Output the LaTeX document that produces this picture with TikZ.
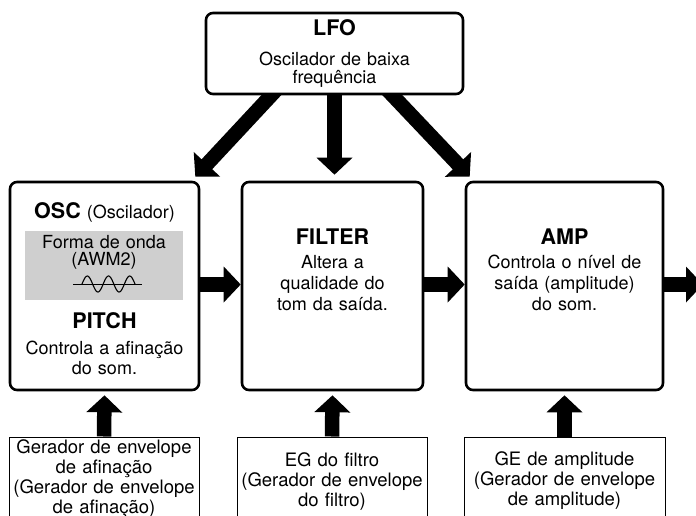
\documentclass[tikz,border=0pt]{standalone}
\usepackage{fontspec}
\setmainfont{TeX Gyre Heros}
\usetikzlibrary{arrows.meta,positioning,backgrounds}

\begin{document}
\begin{tikzpicture}[x=1pt,y=-1pt,
    blk/.style={draw, fill=white, line width=2.6pt, rounded corners=7pt, inner sep=0pt},
    egbox/.style={draw, line width=1pt, inner sep=0pt},
    hd/.style={font=\bfseries\fontsize{21.5}{24}\selectfont, inner sep=0pt, anchor=base},
    txt/.style={font=\fontsize{18}{21}\selectfont, inner sep=0pt, anchor=base, align=center, text width=#1},
    egtxt/.style={font=\fontsize{18.5}{20}\selectfont, inner sep=0pt, anchor=base, align=center, text width=#1},
    bigarrow/.style={line width=14.5pt, -{Triangle[length=17pt,width=35pt]}}]
\useasboundingbox (0,0) rectangle (696,515);

% top block
\node[blk, minimum width=257pt, minimum height=81pt] (lfo) at (334.5,53.5) {};
\node[hd] (lfotitle) at (334.5,35) {LFO};
\node[txt=250pt, font=\fontsize{18}{18}\selectfont] (lfotext) at (334.5,65) {Oscilador de baixa\\frequência};

% main blocks
\node[blk, minimum width=189pt, minimum height=208pt] (osc) at (104.5,286) {};
\node[blk, minimum width=181pt, minimum height=208pt] (filter) at (332.5,286) {};
\node[blk, minimum width=197pt, minimum height=208pt] (amp) at (564.5,286) {};

\node[hd] (osctitle) at (104.5,218) {OSC {\mdseries\fontsize{18}{21}\selectfont (Oscilador)}};
\node[fill=black!19, minimum width=158pt, minimum height=69pt, inner sep=0pt] (wavebox) at (104,265.5) {};
\node[txt=150pt, font=\fontsize{18}{17}\selectfont] (wavetext) at (104,248) {Forma de onda\\(AWM2)};
\draw[line width=1pt] (73,284) -- (142,284);
\draw[line width=1.1pt, domain=0:53, samples=80, smooth] plot ({82+\x},{284-8*sin(16.98*\x)});
\node[hd] (pitch) at (104.5,328) {PITCH};
\node[txt=185pt, font=\fontsize{18}{20}\selectfont] (pitchtext) at (104.5,354) {Controla a afinação\\do som.};

\node[hd] (filtertitle) at (332.5,244) {FILTER};
\node[txt=175pt] (filtertext) at (332.5,268) {Altera a\\qualidade do\\tom da saída.};

\node[hd] (amptitle) at (564.5,244) {AMP};
\node[txt=190pt] (amptext) at (564.5,268) {Controla o nível de\\saída (amplitude)\\do som.};

% envelope generators
\node[egbox, minimum width=190pt, minimum height=100pt] (pitcheg) at (104,487) {};
\node[egbox, minimum width=190pt, minimum height=100pt] (filtereg) at (332,487) {};
\node[egbox, minimum width=201pt, minimum height=100pt] (ampeg) at (564.5,487) {};
\node[egtxt=188pt] (pitchegtext) at (104,453) {Gerador de envelope\\de afinação\\(Gerador de envelope\\de afinação)};
\node[egtxt=188pt] (filteregtext) at (332,466) {EG do filtro\\(Gerador de envelope\\do filtro)};
\node[egtxt=199pt] (ampegtext) at (564.5,465) {GE de amplitude\\(Gerador de envelope\\de amplitude)};

% signal flow
\coordinate (out) at (703,284.5);
\draw[bigarrow] ([yshift=1.5pt]osc.east) -- ([yshift=1.5pt]filter.west);
\draw[bigarrow] ([yshift=1.5pt]filter.east) -- ([yshift=1.5pt]amp.west);
\draw[bigarrow] ([yshift=1.5pt]amp.east) -- (out);

\draw[bigarrow] (pitcheg.north) -- ([yshift=-4pt]osc.south);
\draw[bigarrow] (filtereg.north) -- ([yshift=-4pt]filter.south);
\draw[bigarrow] (ampeg.north) -- ([yshift=-4pt]amp.south);

% modulation from the LFO
\begin{scope}[on background layer]
\draw[bigarrow] ([xshift=-54pt,yshift=10pt]lfo.south) -- ([xshift=-5pt,yshift=4pt]osc.north east);
\draw[bigarrow] ([yshift=10pt]lfo.south) -- ([xshift=2pt,yshift=6pt]filter.north);
\draw[bigarrow] ([xshift=48.5pt,yshift=10pt]lfo.south) -- ([xshift=5pt,yshift=4pt]amp.north west);
\end{scope}
\end{tikzpicture}
\end{document}
